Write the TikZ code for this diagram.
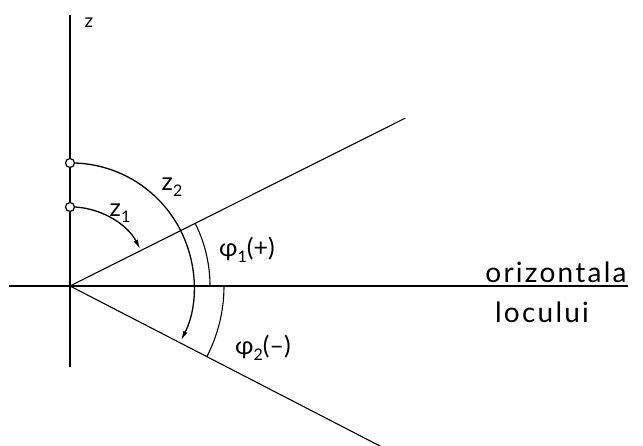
\documentclass[tikz,border=0pt]{standalone}
\usepackage{fontspec}
\setmainfont{Lato}
\newfontfamily\wide[LetterSpace=8]{Lato}
\usetikzlibrary{arrows.meta}
\newcommand{\sbs}[1]{\raisebox{-0.45ex}{\fontsize{16}{16}\selectfont #1}}
\begin{document}
\begin{tikzpicture}[x=1pt,y=1pt,
  thinline/.style={line width=1.1pt,black},
  arcline/.style={line width=1.3pt,black},
  arr/.style={-{Latex[length=10pt,width=4.5pt]}},
  lbl/.style={inner sep=0pt,font=\fontsize{25}{25}\selectfont}]
\useasboundingbox (-70,-159) rectangle (573,286);
\coordinate (O) at (0,0);
\coordinate (vtop) at (0,271);
\coordinate (vbot) at (0,-81);
\coordinate (hl) at (-61,0);
\coordinate (hr) at (558,0);
\coordinate (up) at (26.6:375);
\coordinate (lo) at (-27.3:352);
\draw[thinline] (vbot) -- (vtop);
\draw[thinline] (hl) -- (hr);
\draw[thinline] (O) -- (up);
\draw[thinline] (O) -- (lo);
% small circles
\node[circle,draw,line width=1.2pt,minimum size=9pt,inner sep=0pt,fill=white] (c2) at (0,123) {};
\node[circle,draw,line width=1.2pt,minimum size=9pt,inner sep=0pt,fill=white] (c1) at (0,79) {};
% zenith arcs
\draw[arcline,arr] (c1.east) arc[start angle=86.5,end angle=27.5,radius=79];
\draw[arcline,arr] (c2.east) arc[start angle=88,end angle=-26.5,radius=123];
% elevation arcs
\draw[thinline] (140,0) arc[start angle=0,end angle=26.6,radius=140];
\draw[thinline] (154,0) arc[start angle=0,end angle=-27.3,radius=154];
% labels
\node[lbl,font=\fontsize{19}{19}\selectfont] (lz) at (19,263) {z};
\node[lbl] (lz1) at (50,73) {z\sbs{1}};
\node[lbl] (lz2) at (102,99) {z\sbs{2}};
\node[lbl] (lp1) at (177,36) {φ\sbs{1}(+)};
\node[lbl] (lp2) at (193,-62) {φ\sbs{2}(–)};
\node[lbl,font=\wide\fontsize{28}{28}\selectfont,anchor=base] (lor) at (486,4) {orizontala};
\node[lbl,font=\wide\fontsize{28}{28}\selectfont,anchor=base] (llo) at (472,-36) {locului};
\end{tikzpicture}
\end{document}
